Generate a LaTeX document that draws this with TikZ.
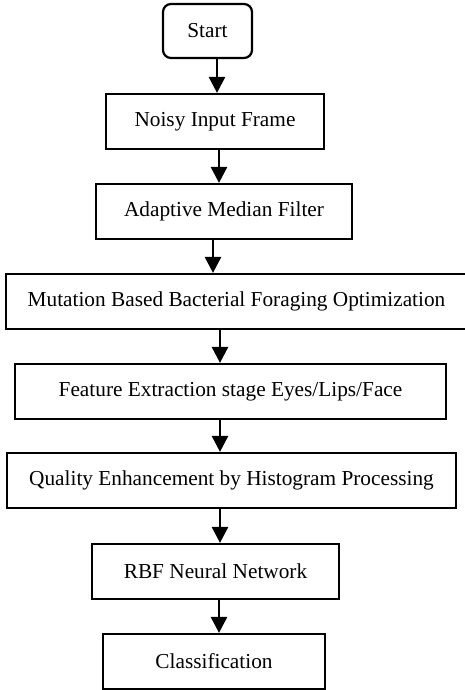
\documentclass[tikz,border=0pt]{standalone}
\usepackage{fontspec}
\setmainfont{Liberation Serif}
\usetikzlibrary{arrows.meta}
\begin{document}
\begin{tikzpicture}[x=1pt,y=-1pt,
  box/.style={draw=black,line width=2.2pt,inner sep=0pt,align=center,
    font=\fontsize{21.3}{25}\selectfont},
  rbox/.style={box,rounded corners=8pt},
  arr/.style={line width=2.8pt,-{Triangle[width=16pt,length=16pt]}}]
\useasboundingbox (0,0) rectangle (465,690);
\node[rbox,minimum width=89pt,minimum height=54pt] (start) at (207.5,31) {Start};
\node[box,minimum width=218pt,minimum height=55pt] (noisy) at (215,121.5) {Noisy Input Frame};
\node[box,minimum width=256pt,minimum height=55pt] (amf) at (224,211.5) {Adaptive Median Filter};
\node[box,minimum width=466pt,minimum height=55pt] (mbfo) at (239,301.5) {};
\node (mbfot) at (236.5,301.5) [font=\fontsize{21.3}{25}\selectfont,inner sep=0pt] {Mutation Based Bacterial Foraging Optimization};
\node[box,minimum width=431pt,minimum height=55pt] (feat) at (230.5,391.5) {Feature Extraction stage Eyes/Lips/Face};
\node[box,minimum width=449pt,minimum height=55pt] (qual) at (231.5,480.5) {Quality Enhancement by Histogram Processing};
\node[box,minimum width=247pt,minimum height=55pt] (rbf) at (215.5,571.5) {RBF Neural Network};
\node[box,minimum width=222pt,minimum height=55pt] (cls) at (214,661.5) {Classification};
\draw[arr] (start.south -| 217,0) -- (noisy.north -| 217,0);
\draw[arr] (noisy.south -| 219,0) -- (amf.north -| 219,0);
\draw[arr] (amf.south -| 213,0) -- (mbfo.north -| 213,0);
\draw[arr] (mbfo.south -| 220,0) -- (feat.north -| 220,0);
\draw[arr] (feat.south -| 220,0) -- (qual.north -| 220,0);
\draw[arr] (qual.south -| 220,0) -- (rbf.north -| 220,0);
\draw[arr] (rbf.south -| 219,0) -- (cls.north -| 219,0);
\end{tikzpicture}
\end{document}
